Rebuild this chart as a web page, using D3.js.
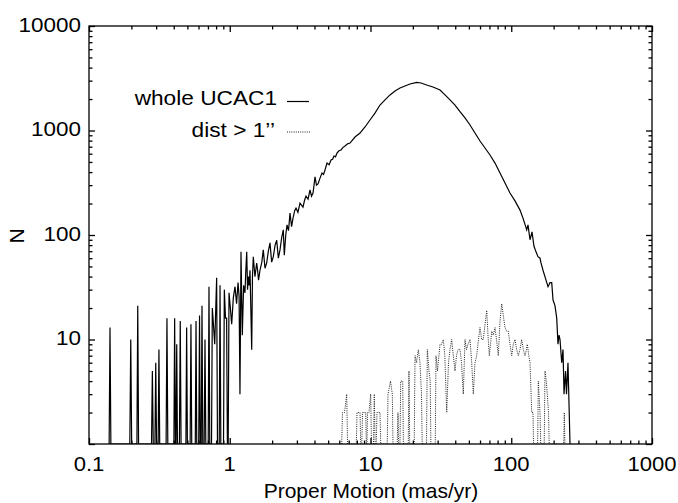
<!DOCTYPE html>
<html>
<head>
<meta charset="utf-8">
<script src="https://cdn.jsdelivr.net/npm/d3@7"></script>
<style>
  body { margin: 0; background: #fff; }
  text { font-family: "Liberation Sans", Arial, Helvetica, sans-serif; }
</style>
</head>
<body>
<script>
// ---- Data ----
// Solid histogram: whole UCAC1 (proper motion in mas/yr, count N)
const wholePM = [
  0.139,0.141,0.143, 0.195,0.198,0.201, 0.219,0.222,0.225, 0.278,0.282,0.286, 0.294,0.298,0.302, 0.310,0.314,0.318,
  0.353,0.358,0.363, 0.401,0.406,0.411, 0.415,0.420,0.425, 0.439,0.445,0.451, 0.488,0.494,0.500, 0.523,0.530,0.537,
  0.569,0.576,0.583, 0.602,0.610,0.617, 0.627,0.635,0.643, 0.658,0.667,0.676, 0.703,0.712,0.721,
  0.742,0.752,0.782,0.807,0.818, 0.842,0.853,0.864, 0.903,0.915,0.933,0.950,0.962, 0.975,0.988,
  1.010,1.032,1.060,1.090,1.118,1.145,1.165,1.182,1.202,1.228,1.255,1.283,1.300,1.320,1.338,1.355,1.375,1.393,1.432,
  1.450,1.470,1.510,1.554,1.580,1.601,1.640,1.690,1.731,1.780,1.830,1.880,1.932,1.985,2.039,2.100,2.156,2.215,2.275,
  2.340,2.401,2.441,2.500,2.552,2.615,2.680,2.750,2.815,2.890,2.956,3.050,3.156,3.314,3.400,3.482,3.600,3.717,3.810,
  3.904,3.970,4.034,4.130,4.236,4.380,4.523,4.640,4.751,4.909,5.080,5.242,5.380,5.505,5.640,5.781,5.970,6.171,6.380,
  6.590,6.870,7.151,7.762,8.424,9.141,9.918,10.76,11.68,12.68,13.76,14.93,16.20,17.59,19.08,21.29,22.85,25.07,27.80,
  31.18,33.83,36.71,39.84,43.24,46.93,50.93,55.27,59.98,65.09,70.63,76.65,83.21,90.29,97.98,106.3,115.4,121.2,128.8,
  131.5,135.9,140.4,145.1,149.9,154.9,160.1,162.7,168.1,176.6,182.5,188.5,193.9,198.0,204.6,210.4,214.8,218.4,222.0,
  228.3,233.2,237.1,243.0,246.9,253.0,261.5];
const wholeN = [
  0,13,0, 0,10,0, 0,21,0, 0,5,0, 0,6,0, 0,8,0,
  0,16,0, 0,16,0, 0,9,0, 0,15,0, 0,13,0, 0,14,0,
  0,15,0, 0,17,0, 0,21,0, 0,10,0, 0,32,0,
  0,20,9,39,0, 0,33,0, 0,30,16,16,0, 0,28,
  20,14,25,32,22,35,26,3,69,11,33,28,45,69,30,40,33,46,8,
  40,62,40,54,45,37,46,55,72,48,54,70,84,55,62,80,89,60,72,
  95,112,64,100,125,110,162,120,145,170,181,165,202,185,215,236,220,270,235,
  252,300,361,300,308,350,392,380,419,488,470,522,530,570,560,609,640,651,690,
  711,745,759,866,946,1080,1260,1468,1753,1962,2190,2391,2552,2666,2786,2892,2848,2726,2606,
  2441,2190,1962,1753,1513,1318,1129,946,793,680,583,488,392,314,252,212,173,145,112,
  125,90,107,78,69,62,60,54,46,37,32,35,35,24,21,16,9,11,10,
  6,8,3,5,3,6,0];

// Dotted histogram: dist > 1''
const distPM = [6.24,6.326,6.537,6.776,6.87, 7.93,8.019,8.424,8.52, 8.67,8.775,9.246,9.34, 9.44,9.521,9.757,10.03,10.16,
  10.50,10.64,10.78, 10.98,11.12,11.68,11.82, 13.15,13.32,13.87,14.29,14.45, 15.48,15.68,15.85, 16.20,16.39,16.94,17.12,
  18.55,18.77,19.00, 20.45,20.72,21.23,21.87,22.47,23.03,23.30, 25.00,25.33,26.04,26.56,26.85,
  28.85,29.20,29.92,31.18,31.96,32.91,33.73,34.79,35.83,36.71,37.75,38.75,39.84,40.83,41.84,43.24,44.32,45.64,
  46.93,48.10,49.29,50.93,52.36,53.76,55.27,56.82,58.52,59.98,61.68,63.31,65.09,66.93,68.37,69.84,71.23,72.63,
  74.56,76.65,78.56,80.91,83.21,85.54,87.81,90.29,92.84,95.28,97.98,100.7,103.4,106.3,109.3,112.2,115.4,118.6,
  121.8,125.2,128.3,130.0,133.3,135.9,139.8,142.7,144.0, 154.0,155.7,160.1,162.0, 171.5,173.7,177.4,180.3,183.9,186.0,
  236.0,238.3,240.5];
const distN = [0,2,2,3,0, 0,2,2,0, 0,2,2,0, 0,2,2,3,0,
  0,3,0, 0,2,2,0, 0,3,4,3,0, 0,2,0, 0,4,4,0,
  0,5,0, 0,7,6,8,6,3,0, 0,8,5,4,0,
  0,7,5,9,9,10,7,2,6,8,10,7,5,7,8,8,6,3,
  10,8,9,10,6,3,6,7,10,13,10,10,14,19,11,7,9,12,
  11,13,10,7,15,22,17,13,12,12,9,7,9,10,8,7,8,10,
  8,7,8,9,7,6,2,2,0, 0,4,2,0, 0,5,4,3,2,0,
  0,2,0];

const xTickValues = [0.1, 1, 10, 100, 1000];
const xTickLabels = ["0.1", "1", "10", "100", "1000"];
const yTickValues = [10, 100, 1000, 10000];
const yTickLabels = ["10", "100", "1000", "10000"];
const legendLabels = ["whole UCAC1", "dist > 1\u2019\u2019"];
const xLabel = "Proper Motion (mas/yr)";
const yLabel = "N";

// ---- Layout ----
const W = 678, H = 503;
const L = 89, R = 652, T = 26, B = 444;
const FONT = 21;

const svg = d3.select("body").append("svg")
  .attr("width", W).attr("height", H)
  .style("background", "#fff");

const x = d3.scaleLog().domain([0.1, 1000]).range([L, R]);
const y = d3.scaleLog().domain([1, 10000]).range([B, T]);

function minors(lo, hi) {
  const out = [];
  for (let d = lo; d < hi; d *= 10) for (let k = 2; k <= 9; k++) out.push(+(d * k).toPrecision(3));
  return out;
}
const xMinor = minors(0.1, 1000);
const yMinor = minors(1, 10000);
const yMajorAll = [1, 10, 100, 1000, 10000];

const axStroke = 1.3, majLen = 6, minLen = 3.5;

function drawAxis(gen, transform, values, len) {
  const g = svg.append("g").attr("transform", transform)
    .call(gen.tickValues(values).tickSize(-len).tickFormat(""));
  g.select(".domain").remove();
  g.selectAll(".tick line").attr("stroke", "#000").attr("stroke-width", axStroke);
  g.selectAll(".tick text").remove();
  return g;
}
drawAxis(d3.axisBottom(x), `translate(0,${B})`, xTickValues, majLen);
drawAxis(d3.axisBottom(x), `translate(0,${B})`, xMinor, minLen);
drawAxis(d3.axisTop(x), `translate(0,${T})`, xTickValues, majLen);
drawAxis(d3.axisTop(x), `translate(0,${T})`, xMinor, minLen);
drawAxis(d3.axisLeft(y), `translate(${L},0)`, yMajorAll, majLen);
drawAxis(d3.axisLeft(y), `translate(${L},0)`, yMinor, minLen);
drawAxis(d3.axisRight(y), `translate(${R},0)`, yMajorAll, majLen);
drawAxis(d3.axisRight(y), `translate(${R},0)`, yMinor, minLen);

// tick labels (slightly wide face, as in the reference)
svg.append("g").selectAll("text").data(xTickValues).join("text")
  .attr("transform", d => `translate(${x(d)},${B + 26.5}) scale(1.05,1)`)
  .attr("text-anchor", "middle").attr("font-size", FONT).attr("fill", "#000")
  .text((d, i) => xTickLabels[i]);
svg.append("g").selectAll("text").data(yTickValues).join("text")
  .attr("transform", d => `translate(${L - 8},${y(d) + 5.5}) scale(1.07,1)`)
  .attr("text-anchor", "end").attr("font-size", FONT).attr("fill", "#000")
  .text((d, i) => yTickLabels[i]);

// axis titles
svg.append("text").attr("x", (L + R) / 2 + 0.5).attr("y", 498)
  .attr("text-anchor", "middle").attr("font-size", FONT).text(xLabel);
svg.append("text").attr("transform", `translate(24,${(T + B) / 2 + 1}) rotate(-90)`)
  .attr("text-anchor", "middle").attr("font-size", FONT).text(yLabel);

// clip
svg.append("clipPath").attr("id", "plotclip").append("rect")
  .attr("x", L).attr("y", T).attr("width", R - L).attr("height", B - T);

const line = d3.line()
  .x(d => x(d[0]))
  .y(d => y(Math.max(d[1], 1)));

const wholeData = wholePM.map((p, i) => [p, wholeN[i]]);
const distData = distPM.map((p, i) => [p, distN[i]]);

const plot = svg.append("g").attr("clip-path", "url(#plotclip)");
plot.append("path").datum(distData).attr("d", line)
  .attr("fill", "none").attr("stroke", "#222").attr("stroke-width", 1)
  .attr("stroke-dasharray", "1,1.2");
plot.append("path").datum(wholeData).attr("d", line)
  .attr("fill", "none").attr("stroke", "#000").attr("stroke-width", 1.2)
  .attr("stroke-linejoin", "miter");

// frame
svg.append("rect").attr("x", L).attr("y", T).attr("width", R - L).attr("height", B - T)
  .attr("fill", "none").attr("stroke", "#000").attr("stroke-width", axStroke);

// legend
const leg = svg.append("g");
leg.append("text").attr("transform", "translate(277,105) scale(1.08,1)").attr("text-anchor", "end")
  .attr("font-size", FONT).text(legendLabels[0]);
leg.append("line").attr("x1", 287).attr("x2", 309).attr("y1", 101.5).attr("y2", 101.5)
  .attr("stroke", "#000").attr("stroke-width", 1.2);
leg.append("text").attr("transform", "translate(275,137) scale(1.08,1)").attr("text-anchor", "end")
  .attr("font-size", FONT).text(legendLabels[1]);
leg.append("line").attr("x1", 287).attr("x2", 310).attr("y1", 132).attr("y2", 132)
  .attr("stroke", "#222").attr("stroke-width", 1).attr("stroke-dasharray", "1,1.2");
</script>
</body>
</html>
